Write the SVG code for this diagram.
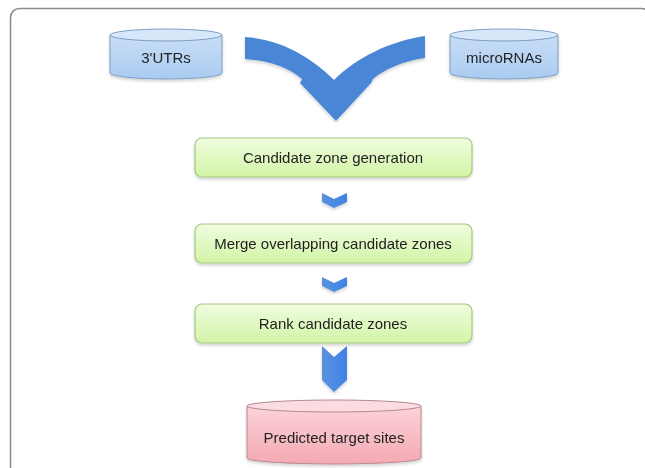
<svg xmlns="http://www.w3.org/2000/svg" width="645" height="468" viewBox="0 0 645 468">
<style>
.lbl{font-family:"Liberation Sans",Arial,sans-serif;font-size:15px;fill:#222;text-anchor:middle;dominant-baseline:central}
.box{fill:url(#gGreen);stroke:#a3c783;stroke-width:1.2}
.cylB{fill:url(#gBlue);stroke:#7d9dc4;stroke-width:1}
.capB{fill:#d6e7f9;stroke:#7d9dc4;stroke-width:1}
.cylR{fill:url(#gRed);stroke:#b88890;stroke-width:1}
.capR{fill:#fbdde1;stroke:#b88890;stroke-width:1}
.chev{fill:url(#gChev)}
</style>
<defs>
<linearGradient id="gGreen" x1="0" y1="0" x2="0" y2="1"><stop offset="0" stop-color="#f0fde0"/><stop offset="1" stop-color="#d2f4a6"/></linearGradient>
<linearGradient id="gBlue" x1="0" y1="0" x2="0" y2="1"><stop offset="0" stop-color="#c9def6"/><stop offset="1" stop-color="#a9cbf0"/></linearGradient>
<linearGradient id="gRed" x1="0" y1="0" x2="0" y2="1"><stop offset="0" stop-color="#fbd3d8"/><stop offset="1" stop-color="#f4a9b3"/></linearGradient>
<linearGradient id="gChev" x1="0" y1="0" x2="1" y2="0"><stop offset="0" stop-color="#5a93de"/><stop offset="1" stop-color="#3f82e6"/></linearGradient>
<filter id="sh" x="-10%" y="-10%" width="120%" height="130%"><feDropShadow dx="0" dy="2" stdDeviation="1.5" flood-color="#000" flood-opacity="0.18"/></filter>
</defs>
<rect x="0" y="0" width="645" height="468" fill="#fff"/>
<rect x="10.5" y="8.5" width="640" height="480" rx="9" fill="none" stroke="#8a8a8a" stroke-width="1.5"/>

<g id="connectors">
<path id="merge-arrow" d="M245,37 C278,39 309,55 334,80 C356,58 390,41 425,36 L425,58 C403,61 385,69 373,79 L371,83 L336,121 L300,83 L302,79 C289,68 272,61 245,59 Z" fill="#4a86d6" filter="url(#sh)"/>
<path class="chev" d="M322,193 L334,199 L347,193 L347,202 L334,208 L322,202 Z" filter="url(#sh)"/>
<path class="chev" d="M322,277 L334,283 L347,277 L347,286 L334,292 L322,286 Z" filter="url(#sh)"/>
<path class="chev" d="M322,346 L334,357 L347,346 L347,380 L334,392 L322,380 Z" filter="url(#sh)"/>
</g>

<g id="utrs" filter="url(#sh)">
<path class="cylB" d="M110,35 L110,73 A56,6 0 0 0 222,73 L222,35 Z"/>
<ellipse class="capB" cx="166" cy="35" rx="56" ry="6"/>
<text class="lbl" x="166" y="57">3'UTRs</text>
</g>

<g id="micrornas" filter="url(#sh)">
<path class="cylB" d="M450,35 L450,73 A54,6 0 0 0 558,73 L558,35 Z"/>
<ellipse class="capB" cx="504" cy="35" rx="54" ry="6"/>
<text class="lbl" x="504" y="57">microRNAs</text>
</g>

<g id="candidate" filter="url(#sh)">
<rect class="box" x="195" y="138" width="277" height="39" rx="7"/>
<text class="lbl" x="333" y="157.5">Candidate zone generation</text>
</g>

<g id="merge" filter="url(#sh)">
<rect class="box" x="195" y="224" width="277" height="39" rx="7"/>
<text class="lbl" x="333" y="243.5">Merge overlapping candidate zones</text>
</g>

<g id="rank" filter="url(#sh)">
<rect class="box" x="195" y="304" width="277" height="39" rx="7"/>
<text class="lbl" x="333" y="323.5">Rank candidate zones</text>
</g>

<g id="predicted" filter="url(#sh)">
<path class="cylR" d="M247,406 L247,458 A87,6 0 0 0 421,458 L421,406 Z"/>
<ellipse class="capR" cx="334" cy="406" rx="87" ry="6"/>
<text class="lbl" x="334" y="437">Predicted target sites</text>
</g>
</svg>
